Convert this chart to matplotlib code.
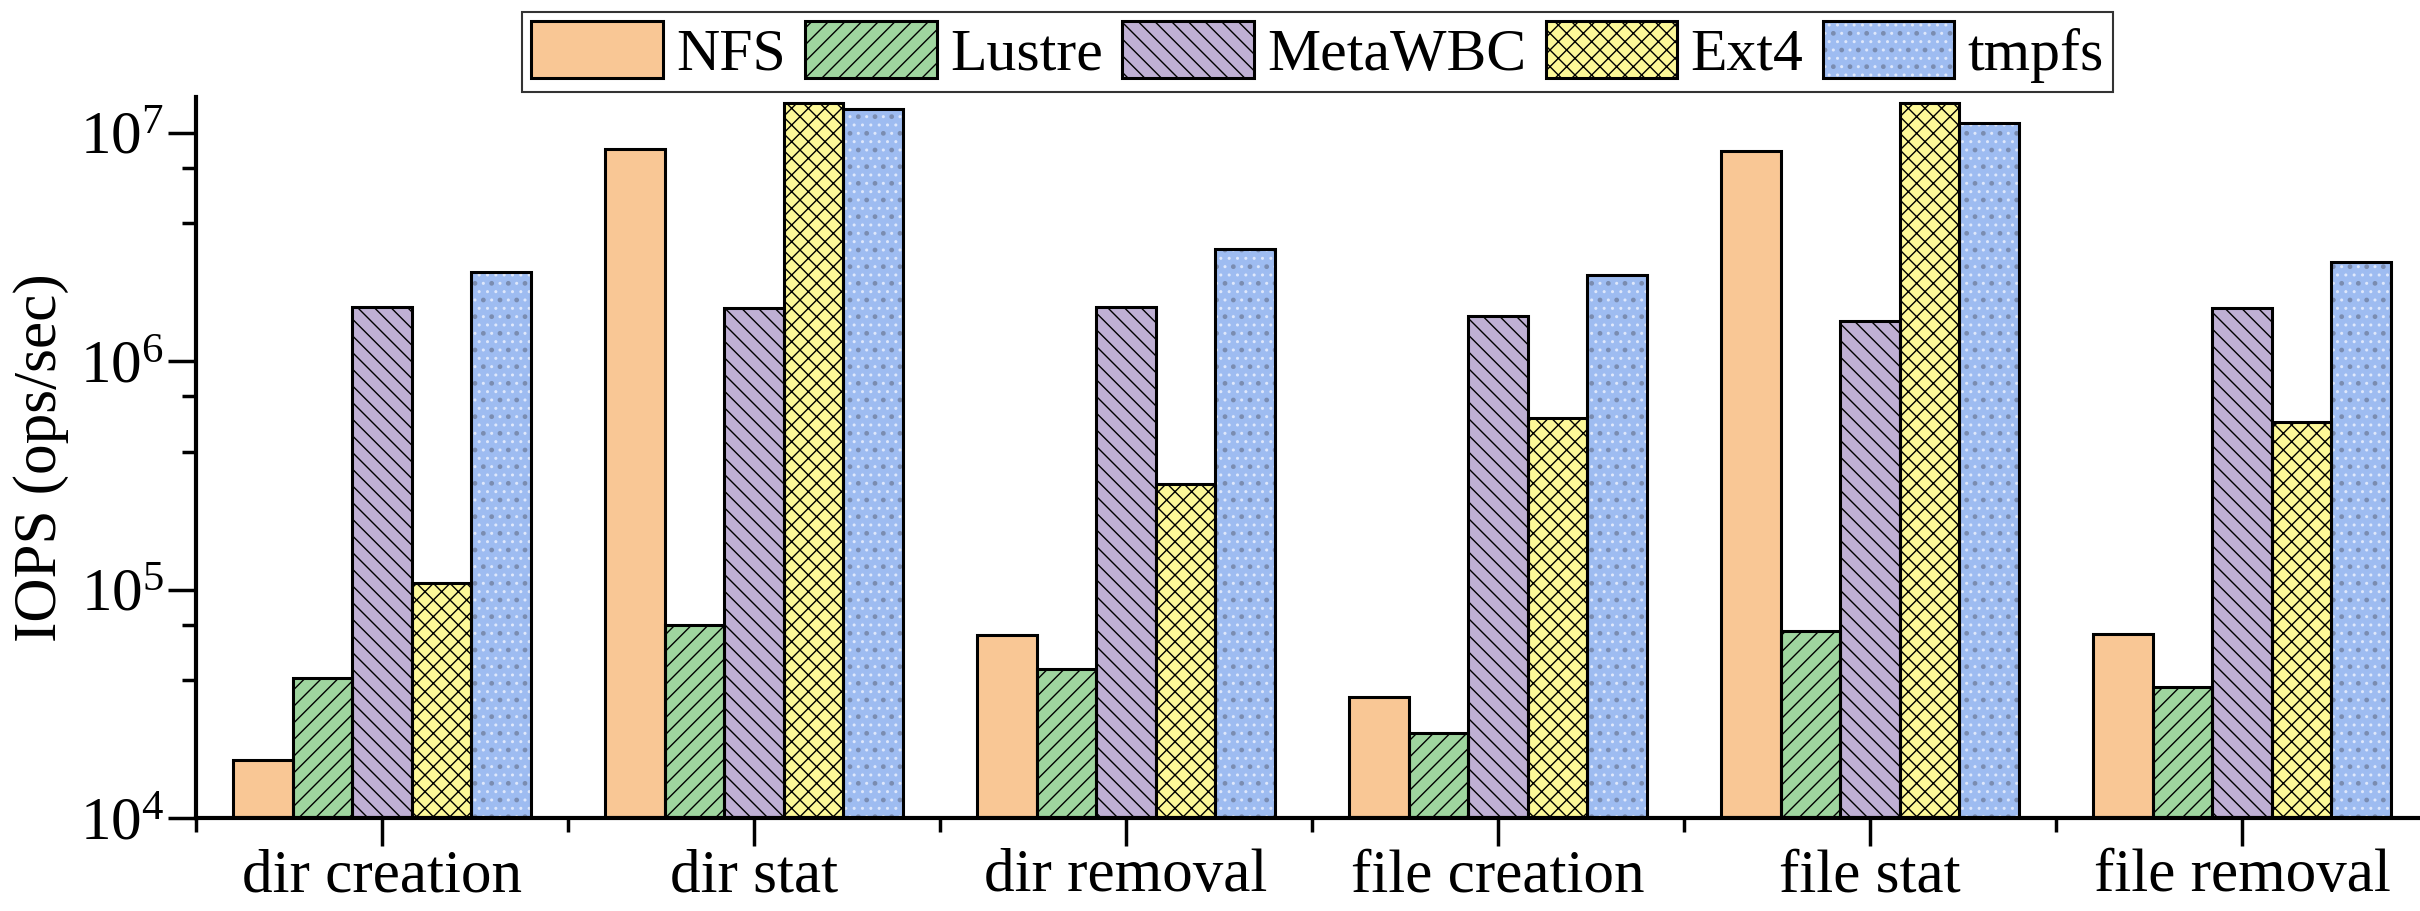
import numpy as np
import matplotlib
matplotlib.use("Agg")
from matplotlib import pyplot as plt
from matplotlib.patches import Patch
from matplotlib.legend_handler import HandlerTuple
from matplotlib.ticker import FixedLocator, LogFormatterSciNotation, NullFormatter

plt.rcParams['font.family'] = ['Liberation Serif', 'DejaVu Serif']
plt.rcParams['mathtext.fontset'] = 'custom'
plt.rcParams['mathtext.rm'] = 'Liberation Serif'
plt.rcParams['hatch.linewidth'] = 1.0

# metadata operation throughput, ops/sec
operations = ['dir creation', 'dir stat', 'dir removal',
              'file creation', 'file stat', 'file removal']
systems = ['NFS', 'Lustre', 'MetaWBC', 'Ext4', 'tmpfs']
nfs = [1.8e4, 8.5e6, 6.3e4, 3.4e4, 8.3e6, 6.4e4]
lustre = [4.1e4, 7.0e4, 4.5e4, 2.35e4, 6.6e4, 3.75e4]
metawbc = [1.73e6, 1.71e6, 1.73e6, 1.58e6, 1.50e6, 1.71e6]
ext4 = [1.07e5, 1.34e7, 2.9e5, 5.65e5, 1.34e7, 5.4e5]
tmpfs = [2.46e6, 1.27e7, 3.1e6, 2.37e6, 1.10e7, 2.7e6]

fills = ['#f9c795', '#9fd59f', '#bfb0d4', '#fdf898', '#9ebcf1']
hatches = [None, '//', '\\\\', 'xx', '..']
hatch_colors = ['black', 'black', 'black', 'black', '#dfe8fb']

fig = plt.figure(figsize=(24.2, 9.11), dpi=100)
ax = fig.add_axes([0.081, 0.102, 0.9223, 0.7915])
ax.set_yscale('log')

x = np.arange(len(operations))
width = 0.16
series = [nfs, lustre, metawbc, ext4, tmpfs]
handles = []
for i, vals in enumerate(series):
    pos = x + (i - 2) * width
    layers = []
    # fill + hatch first, then a black outline on top
    ax.bar(pos, vals, width, color=fills[i], hatch=hatches[i],
           edgecolor=hatch_colors[i], linewidth=0, zorder=2)
    layers.append(Patch(facecolor=fills[i], hatch=hatches[i],
                        edgecolor=hatch_colors[i], linewidth=0))
    if systems[i] == 'tmpfs':
        # sparse faint specks over the light dot pattern
        ax.bar(pos, vals, width, fill=False, hatch='.', edgecolor='#7a8cb0',
               linewidth=0, zorder=2.5)
        layers.append(Patch(fill=False, hatch='.', edgecolor='#7a8cb0', linewidth=0))
    ax.bar(pos, vals, width, fill=False, edgecolor='black',
           linewidth=2.2, zorder=3)
    layers.append(Patch(fill=False, edgecolor='black', linewidth=2.2))
    handles.append(tuple(layers))

ax.set_ylim(1e4, 1.43e7)
ax.set_xlim(-0.5, 5.5)

ax.set_xticks(x)
ax.set_xticklabels(operations, fontsize=44)
ax.xaxis.set_minor_locator(FixedLocator(np.arange(-0.5, 6, 1.0)))
ax.tick_params(axis='x', which='major', length=20, width=2.5, pad=2, direction='out')
ax.tick_params(axis='x', which='minor', length=10, width=2.5, direction='out')

ax.yaxis.set_major_locator(FixedLocator([1e4, 1e5, 1e6, 1e7]))
ax.yaxis.set_major_formatter(LogFormatterSciNotation())
ax.yaxis.set_minor_locator(FixedLocator([4e4, 7e4, 4e5, 7e5, 4e6, 7e6]))
ax.yaxis.set_minor_formatter(NullFormatter())
ax.tick_params(axis='y', which='major', length=20, width=2.5, pad=3,
               labelsize=44, direction='out')
ax.tick_params(axis='y', which='minor', length=10, width=2.5, direction='out')

ax.set_ylabel('IOPS (ops/sec)', fontsize=44, labelpad=8)

for side in ['top', 'right']:
    ax.spines[side].set_visible(False)
for side in ['left', 'bottom']:
    ax.spines[side].set_linewidth(3)

leg = fig.legend(handles, systems, loc='upper center',
                 bbox_to_anchor=(0.5444, 0.987), bbox_transform=fig.transFigure,
                 ncol=5, fontsize=43, frameon=True, fancybox=False,
                 handlelength=2.2, handleheight=1.1, handletextpad=0.22,
                 columnspacing=0.33, borderpad=0.15, borderaxespad=0,
                 handler_map={tuple: HandlerTuple(ndivide=1)})
leg.get_frame().set_edgecolor('black')
leg.get_frame().set_linewidth(1.5)

fig.savefig('out.png', dpi=100)
